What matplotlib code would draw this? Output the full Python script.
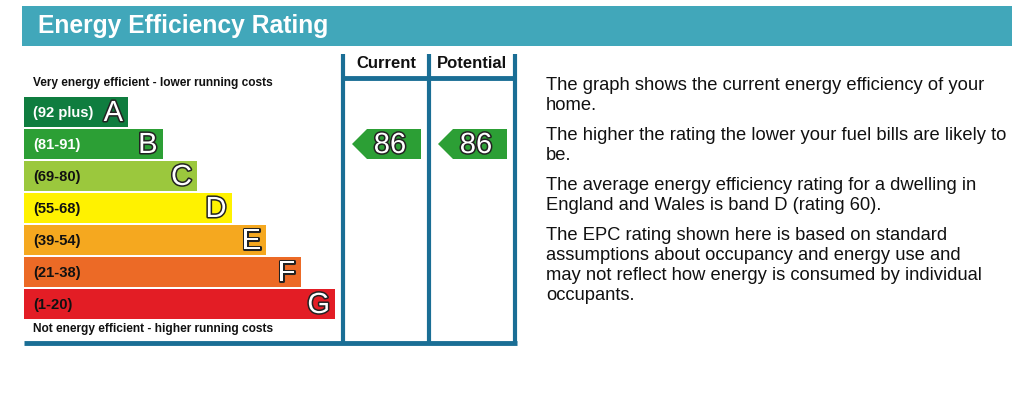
import matplotlib
matplotlib.use("Agg")
import matplotlib.pyplot as plt
import matplotlib.patheffects as pe
from matplotlib.patches import Polygon, Rectangle

plt.rcParams['font.family'] = ['Liberation Sans', 'DejaVu Sans']

# band data
letters = ['A', 'B', 'C', 'D', 'E', 'F', 'G']
ranges = ['(92 plus)', '(81-91)', '(69-80)', '(55-68)', '(39-54)', '(21-38)', '(1-20)']
lows = [92, 81, 69, 55, 39, 21, 1]
colors = ['#0f7d3f', '#2c9f35', '#9bc83d', '#fff200', '#f5a81f', '#ec6a26', '#e31d25']
label_colors = ['white', 'white', '#111111', '#111111', '#111111', '#111111', '#111111']

current = 86
potential = 86

paragraphs = [
    "The graph shows the current energy efficiency of your\nhome.",
    "The higher the rating the lower your fuel bills are likely to\nbe.",
    "The average energy efficiency rating for a dwelling in\nEngland and Wales is band D (rating 60).",
    "The EPC rating shown here is based on standard\nassumptions about occupancy and energy use and\nmay not reflect how energy is consumed by individual\noccupants.",
]

TEAL = '#41a7ba'
FRAME = '#1a6e95'

fig = plt.figure(figsize=(10.24, 4.04), dpi=100)
ax = fig.add_axes([0, 0, 1, 1])
ax.set_xlim(0, 1024)
ax.set_ylim(404, 0)
ax.axis('off')

# header
ax.add_patch(Rectangle((22, 6), 990, 40, color=TEAL, lw=0))
ax.text(38, 26, 'Energy Efficiency Rating', color='white', fontsize=17.7,
        fontweight='bold', va='center', ha='left')

# bands
left = 24
top = 97
pitch = 32
bar_h = 30
outline = [pe.Stroke(linewidth=2.2, foreground='#222222'), pe.Normal()]
centers = [top + bar_h / 2 + pitch * i for i in range(len(letters))]
widths = [104 + 34.5 * i for i in range(len(letters))]
ax.barh(centers, widths, left=left, height=bar_h, color=colors, lw=0)
for i in range(len(letters)):
    ax.text(33, centers[i] + 1, ranges[i], color=label_colors[i], fontsize=10.6,
            fontweight='bold', va='center', ha='left')
    ax.text(left + widths[i] - 5, centers[i] + 1, letters[i], color='white',
            fontsize=21, va='center', ha='right', path_effects=outline)

ax.text(33, 83, 'Very energy efficient - lower running costs', fontsize=8.6,
        fontweight='bold', va='center', ha='left', color='#111111')
ax.text(33, 329, 'Not energy efficient - higher running costs', fontsize=8.6,
        fontweight='bold', va='center', ha='left', color='#111111')

# column frame
col_x = [343, 429, 515]
for x in col_x:
    ax.plot([x, x], [54, 343], color=FRAME, lw=3, solid_capstyle='butt')
ax.plot([col_x[0], col_x[-1]], [77.5, 77.5], color=FRAME, lw=3.5, solid_capstyle='butt')
ax.plot([left, col_x[-1] + 1.5], [342.5, 342.5], color=FRAME, lw=3.5, solid_capstyle='butt')
ax.text((col_x[0] + col_x[1]) / 2, 63, 'Current', fontsize=12, fontweight='bold',
        va='center', ha='center', color='#111111')
ax.text((col_x[1] + col_x[2]) / 2, 63, 'Potential', fontsize=12, fontweight='bold',
        va='center', ha='center', color='#111111')


def band_of(value):
    for i, lo in enumerate(lows):
        if value >= lo:
            return i
    return len(lows) - 1


def draw_arrow(value, x0, x1):
    i = band_of(value)
    yt = top + pitch * i
    yb = yt + bar_h
    ym = (yt + yb) / 2
    tip = 15
    poly = Polygon([(x0, ym), (x0 + tip, yt), (x1, yt), (x1, yb), (x0 + tip, yb)],
                   closed=True, color=colors[i], lw=0)
    ax.add_patch(poly)
    ax.text((x0 + tip + x1) / 2 - 4, ym + 1, str(value), color='white', fontsize=21,
            va='center', ha='center', path_effects=outline)


draw_arrow(current, 352, 421)
draw_arrow(potential, 438, 507)

# explanation text
y = 86
for p in paragraphs:
    lines = p.split('\n')
    for ln in lines:
        ax.text(546, y, ln, fontsize=13.2, va='center', ha='left', color='#111111')
        y += 20
    y += 10

fig.savefig('out.png', dpi=100)
